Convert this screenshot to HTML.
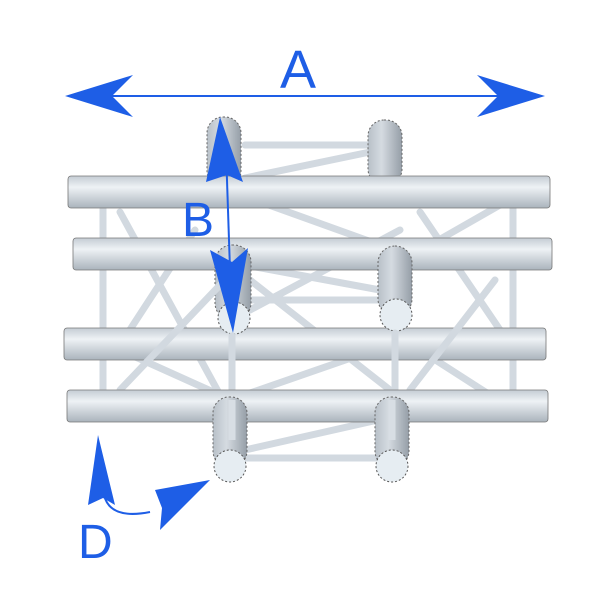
<!DOCTYPE html>
<html><head><style>html,body{margin:0;padding:0;background:#fff}svg{display:block}</style></head><body>
<svg width="600" height="600" viewBox="0 0 600 600" xmlns="http://www.w3.org/2000/svg">
<defs>
<linearGradient id="h" x1="0" y1="0" x2="0" y2="1"><stop offset="0" stop-color="#c4ccd4"/><stop offset="0.35" stop-color="#eef2f5"/><stop offset="1" stop-color="#aab3bc"/></linearGradient>
<linearGradient id="v" x1="0" y1="0" x2="1" y2="0"><stop offset="0" stop-color="#b8c0c8"/><stop offset="0.4" stop-color="#d5dbe1"/><stop offset="1" stop-color="#959ea7"/></linearGradient>
</defs>
<g stroke="#d2d9e0" stroke-width="7" stroke-linecap="round">
<line x1="103" y1="200" x2="103" y2="390"/><line x1="513" y1="205" x2="513" y2="395"/>
<line x1="120" y1="212" x2="220" y2="395"/><line x1="120" y1="345" x2="195" y2="230"/>
<line x1="255" y1="200" x2="380" y2="245"/><line x1="420" y1="212" x2="500" y2="330"/>
<line x1="500" y1="205" x2="430" y2="245"/><line x1="120" y1="350" x2="220" y2="395"/>
<line x1="250" y1="280" x2="390" y2="390"/>
<line x1="250" y1="310" x2="400" y2="230"/><line x1="420" y1="350" x2="490" y2="395"/>
<line x1="230" y1="400" x2="380" y2="348"/>
<line x1="245" y1="145" x2="370" y2="145"/><line x1="245" y1="178" x2="370" y2="152"/>
<line x1="245" y1="265" x2="380" y2="290"/><line x1="245" y1="300" x2="380" y2="300"/>
<line x1="245" y1="450" x2="378" y2="420"/><line x1="245" y1="458" x2="378" y2="458"/>
</g>
<rect x="207" y="117" width="34" height="70" rx="16" fill="url(#v)" stroke="#666" stroke-dasharray="2 2"/>
<rect x="368" y="120" width="34" height="65" rx="16" fill="url(#v)" stroke="#666" stroke-dasharray="2 2"/>
<rect x="68" y="176" width="482" height="32" rx="3" fill="url(#h)" stroke="#777" stroke-width="0.8"/>
<rect x="73" y="238" width="479" height="32" rx="3" fill="url(#h)" stroke="#777" stroke-width="0.8"/>
<rect x="64" y="328" width="482" height="32" rx="3" fill="url(#h)" stroke="#777" stroke-width="0.8"/>
<rect x="215" y="245" width="36" height="75" rx="17" fill="url(#v)" stroke="#666" stroke-dasharray="2 2"/>
<rect x="378" y="246" width="34" height="70" rx="17" fill="url(#v)" stroke="#666" stroke-dasharray="2 2"/>
<circle cx="234" cy="318" r="16" fill="#e6edf2" stroke="#555" stroke-dasharray="2 2"/>
<circle cx="396" cy="315" r="16" fill="#e6edf2" stroke="#555" stroke-dasharray="2 2"/>
<g stroke="#d2d9e0" stroke-width="7" stroke-linecap="round">
<line x1="232" y1="336" x2="232" y2="440"/><line x1="395" y1="333" x2="395" y2="440"/>
<line x1="120" y1="390" x2="220" y2="285"/><line x1="410" y1="390" x2="495" y2="280"/>
</g>
<rect x="67" y="390" width="481" height="32" rx="3" fill="url(#h)" stroke="#777" stroke-width="0.8"/>
<rect x="213" y="397" width="34" height="70" rx="16" fill="url(#v)" stroke="#666" stroke-dasharray="2 2"/>
<rect x="375" y="397" width="34" height="70" rx="16" fill="url(#v)" stroke="#666" stroke-dasharray="2 2"/>
<line x1="232" y1="400" x2="232" y2="440" stroke="#d8dee4" stroke-width="7"/>
<line x1="392" y1="400" x2="392" y2="440" stroke="#d8dee4" stroke-width="7"/>
<circle cx="230" cy="466" r="16" fill="#e6edf2" stroke="#555" stroke-dasharray="2 2"/>
<circle cx="392" cy="466" r="16" fill="#e6edf2" stroke="#555" stroke-dasharray="2 2"/>
<g fill="#1e5ee6" stroke="none">
<line x1="100" y1="96" x2="510" y2="96" stroke="#1e5ee6" stroke-width="2"/>
<polygon points="65,96 133,75 112,96 133,117"/>
<polygon points="545,96 477,75 498,96 477,117"/>
<line x1="226" y1="150" x2="231" y2="300" stroke="#1e5ee6" stroke-width="2"/>
<polygon points="220,117 243,182 227,175 206,182"/>
<polygon points="233,333 210,250 232,262 248,248"/>
<polygon points="98,435 115,505 103,498 88,505"/>
<path d="M104,495 Q110,520 150,512" fill="none" stroke="#1e5ee6" stroke-width="2"/>
<polygon points="210,480 155,490 162,508 160,530"/>
</g>
<g fill="#1e5ee6" font-family="Liberation Sans, sans-serif">
<text x="280" y="88" font-size="54">A</text>
<text x="182" y="236" font-size="48">B</text>
<text x="78" y="558" font-size="48">D</text>
</g>
</svg>
</body></html>
